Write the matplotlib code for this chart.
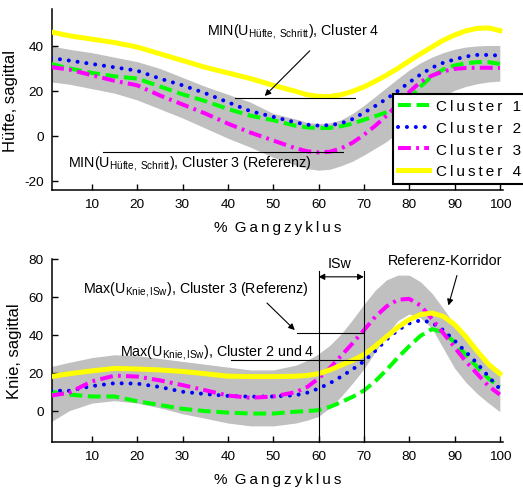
import numpy as np
import matplotlib
matplotlib.use("Agg")
import matplotlib.pyplot as plt

plt.rcParams['font.family'] = ['Liberation Sans', 'DejaVu Sans']
plt.rcParams['mathtext.fontset'] = 'custom'
plt.rcParams['mathtext.rm'] = 'Liberation Sans'
plt.rcParams['mathtext.it'] = 'Liberation Sans'
plt.rcParams['axes.unicode_minus'] = False

TS = '\u2009'   # thin space for the letter spaced texts
ANN = 10.3      # annotation font size

# % Gangzyklus
x = [1, 5, 10, 15, 20, 25, 30, 35, 40, 45, 50,
     55, 57.5, 60, 62.5, 65, 67.5, 70, 72.5, 75, 77.5, 80, 82.5, 85, 87.5, 90, 92.5, 95, 97.5, 100]

# Hüfte, sagittal
hip_c1 = [32, 30, 28, 26.5, 25.5, 22, 18.5, 15.5, 12, 9, 7,
          4.5, 3.8, 3.5, 3.6, 4.3, 5.5, 7.2, 8.8, 10.5, 12.8, 16.5, 22, 26.5, 29.5, 31.3, 32.3, 32.8, 32.8, 32]
hip_c2 = [34.6, 33.5, 32, 30.5, 29, 25.5, 22.5, 19, 15, 11, 8.5,
          6, 5, 4.6, 4.8, 5.6, 7.5, 10.3, 13.3, 16.5, 20, 23.8, 27.3, 30.3, 32.5, 34, 35.3, 36, 36, 35.7]
hip_c3 = [30.6, 29.5, 27, 24.5, 22.5, 18, 14, 10, 5.5, 1.5, -2,
          -5.5, -6.8, -7.3, -7, -5.5, -3, 0.5, 4.5, 9, 14, 19.5, 24, 26.8, 28.7, 29.8, 30.2, 30.3, 30.3, 30.2]
hip_c4 = [46.2, 44.5, 43, 41.5, 39.5, 36.5, 33.5, 30.5, 28, 25.5, 22.5,
          19.8, 18.3, 17.6, 17.5, 18.3, 19.8, 21.8, 24.3, 27, 30, 33.3, 36.5, 39.5, 42.5, 44.8, 46.7, 47.8, 48, 46.8]
hip_lo = [24, 23, 21, 19, 16, 12, 8, 3.5, -1, -5, -9.5,
          -13, -14.5, -15.2, -14.8, -13.2, -11.2, -8.5, -5.5, -2.5, 1.5, 5.5, 10, 14, 17.5, 20.3, 22, 23.2, 24, 24.4]
hip_hi = [40, 38.5, 37, 35, 33, 30, 26, 22, 18.5, 15, 10,
          7.5, 6, 5.5, 5.8, 7.2, 10, 13.5, 17.5, 21.5, 25.5, 29.3, 32.5, 35, 37, 38.5, 39.5, 40, 40.2, 40.2]

# Knie, sagittal
knee_c1 = [10, 8.5, 7.5, 7.5, 5, 3, 1, -0.2, -1, -1.5, -1.5,
           -0.5, -0.2, 0.3, 2, 4.5, 7.3, 10.6, 15.5, 21.5, 28, 34, 39.5, 43, 41.5, 36, 29.5, 23, 17, 12.5]
knee_c2 = [10.6, 10.5, 13, 14.5, 14.3, 12.5, 10, 8.8, 7.8, 7.4, 7.5,
           8.2, 9.5, 11.7, 14.5, 18, 21.8, 26, 31.5, 37.5, 42.5, 46, 47.7, 46.5, 42.5, 37, 31, 25, 18, 11.5]
knee_c3 = [8, 9.5, 15.5, 18.5, 18, 16, 13.5, 10.8, 8, 6.8, 7.5,
           9.8, 12.5, 17, 22.5, 29, 35.5, 42.4, 49.5, 55, 58.5, 59, 55.5, 48.5, 41, 33.5, 26, 19.5, 13, 8.5]
knee_c4 = [18, 19.5, 21, 22.3, 22, 21.5, 20.7, 19.5, 18.2, 18, 18,
           18.2, 18.6, 19.5, 21.5, 24, 26.5, 29.5, 34, 39, 44, 48, 50.7, 51.5, 49.8, 45.5, 39, 31.5, 24.5, 19.5]
knee_lo = [-5.8, 0, 4, 5.3, 4, 1.5, -1.6, -4, -6.5, -8, -8,
           -6.5, -5, -3, 1.5, 7.5, 14.5, 22, 31, 40, 47.5, 51, 49, 43.5, 33, 22.5, 15, 9, 4, -0.5]
knee_hi = [23.3, 25.5, 28, 29.5, 29, 27.5, 26, 24.5, 23, 21.5, 21.5,
           24, 26.5, 30, 34.5, 40.5, 48, 56, 63.5, 69, 71.5, 71.5, 68, 62, 54, 45.5, 38, 31, 25, 21.5]

labels = ['Cluster 1', 'Cluster 2', 'Cluster 3', 'Cluster 4']
x_ticks = [10, 20, 30, 40, 50, 60, 70, 80, 90, 100]


def draw_curves(ax, lo, hi, c1, c2, c3, c4):
    ax.fill_between(x, lo, hi, color='#c0c0c0', lw=0, zorder=1)
    l1, = ax.plot(x, c1, color='#00ff00', lw=2.9, ls=(0, (3.2, 1.4)), zorder=3)
    l2, = ax.plot(x, c2, color='#0000ff', lw=2.9, ls=(0, (0.01, 2.2)),
                  dash_capstyle='round', zorder=3)
    l3, = ax.plot(x, c3, color='#ff00ff', lw=2.9, ls=(0, (3.2, 1.3, 0.7, 1.3)), zorder=3)
    l4, = ax.plot(x, c4, color='#ffff00', lw=3.6, zorder=3)
    return [l1, l2, l3, l4]


def style_axes(ax, ylabel, ylab_x):
    ax.spines['top'].set_visible(False)
    ax.spines['right'].set_visible(False)
    ax.spines['left'].set_linewidth(1.1)
    ax.spines['bottom'].set_linewidth(1.1)
    ax.tick_params(direction='in', length=4, width=1, labelsize=9.7, pad=6)
    ax.set_xlim(1.2, 100.7)
    ax.set_xticks(x_ticks)
    ax.set_xlabel('%' + TS + ' ' + TS.join('Gangzyklus'), fontsize=11)
    ax.xaxis.set_label_coords(0.5, -0.165)
    ax.set_ylabel(ylabel, fontsize=12)
    ax.yaxis.set_label_coords(ylab_x, 0.5)


fig = plt.figure(figsize=(5.23, 4.89), dpi=100)
ax1 = fig.add_axes([52 / 523, 1 - 191 / 489, 451 / 523, 181 / 489])
ax2 = fig.add_axes([52 / 523, 1 - 443 / 489, 451 / 523, 183 / 489])

# top: Hüfte
lines = draw_curves(ax1, hip_lo, hip_hi, hip_c1, hip_c2, hip_c3, hip_c4)
style_axes(ax1, 'Hüfte, sagittal', -0.075)
ax1.set_ylim(-24, 56.4)
ax1.set_yticks([-20, 0, 20, 40])

ax1.plot([41.6, 68], [16.8, 16.8], color='black', lw=0.8, zorder=4)
ax1.plot([12.4, 65.4], [-7.3, -7.3], color='black', lw=0.8, zorder=4)
ax1.annotate('', xy=(47.7, 16.9), xytext=(58.5, 38.7),
             arrowprops=dict(arrowstyle='-|>', color='black', lw=0.8, mutation_scale=9))
ax1.text(35.4, 46.7, r'MIN(U$_{\mathrm{Hüfte,\ Schritt}}$), Cluster 4',
         fontsize=ANN, va='center', ha='left')
ax1.text(4.7, -11.6, r'MIN(U$_{\mathrm{Hüfte,\ Schritt}}$), Cluster 3 (Referenz)',
         fontsize=ANN, va='center', ha='left')

leg = ax1.legend(lines, [TS.join(s) for s in labels], loc='upper left',
                 bbox_to_anchor=(0.756, 0.53), borderaxespad=0, fontsize=11,
                 handlelength=2.0, handletextpad=0.45, borderpad=0.35,
                 labelspacing=0.5, fancybox=False, framealpha=1)
leg.get_frame().set_edgecolor('black')
leg.get_frame().set_linewidth(1.5)

# bottom: Knie
draw_curves(ax2, knee_lo, knee_hi, knee_c1, knee_c2, knee_c3, knee_c4)
style_axes(ax2, 'Knie, sagittal', -0.067)
ax2.set_ylim(-16.5, 80)
ax2.set_yticks([0, 20, 40, 60, 80])

for xv in [60, 70]:
    ax2.plot([xv, xv], [-16.5, 73.7], color='black', lw=0.8, zorder=4, clip_on=False)
ax2.annotate('', xy=(60, 70.6), xytext=(70, 70.6),
             arrowprops=dict(arrowstyle='<|-|>', color='black', lw=0.8, mutation_scale=9,
                             shrinkA=0, shrinkB=0))
ax2.text(64.7, 78, 'ISw', fontsize=ANN, ha='center', va='center')
ax2.plot([55.2, 70], [40.8, 40.8], color='black', lw=0.8, zorder=4)
ax2.plot([40.6, 70], [26.5, 26.5], color='black', lw=0.8, zorder=4)
ax2.annotate('', xy=(55.2, 41.5), xytext=(48.2, 57.8),
             arrowprops=dict(arrowstyle='-|>', color='black', lw=0.8, mutation_scale=9))
ax2.text(8.0, 64.7, r'Max(U$_{\mathrm{Knie,ISw}}$), Cluster 3 (Referenz)',
         fontsize=ANN, va='center', ha='left')
ax2.text(16.2, 31.3, r'Max(U$_{\mathrm{Knie,ISw}}$), Cluster 2 und 4',
         fontsize=ANN, va='center', ha='left')
ax2.text(75.3, 79.6, 'Referenz-Korridor', fontsize=ANN, va='center', ha='left')
ax2.annotate('', xy=(88.5, 54.1), xytext=(90.7, 72.7),
             arrowprops=dict(arrowstyle='-|>', color='black', lw=0.8, mutation_scale=9))

fig.savefig('out.png', dpi=100)
